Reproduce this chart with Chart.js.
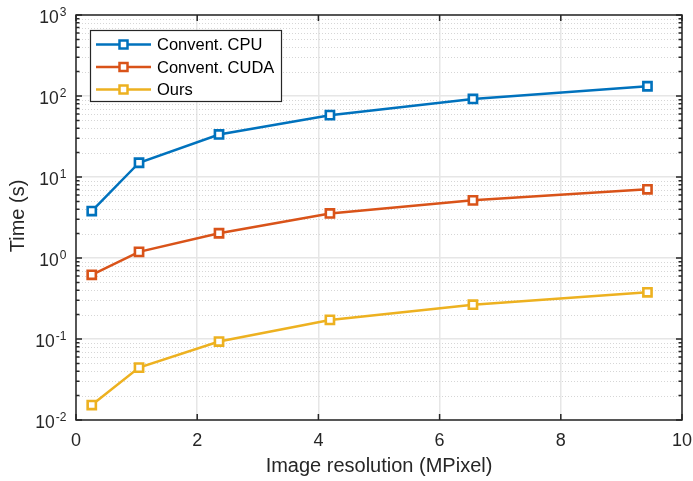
<!DOCTYPE html>
<html lang="en">
  <head>
    <meta charset="UTF-8" />
    <title>Time vs image resolution</title>
    <script src="https://cdn.jsdelivr.net/npm/chart.js"></script>
    <style>
      html, body { margin: 0; padding: 0; background: #fff; }
      canvas { display: block; }
    </style>
  </head>
  <body>
    <canvas id="chart" width="693" height="481"></canvas>
    <script>
      // data (x in MPixel, y in seconds)
      const resolution = [0.26, 1.04, 2.36, 4.19, 6.55, 9.43];
      const cpuTime = [3.8, 15, 33.5, 58, 92, 132];
      const cudaTime = [0.62, 1.19, 2.02, 3.55, 5.15, 7.05];
      const oursTime = [0.0153, 0.0443, 0.093, 0.172, 0.265, 0.377];
      const seriesNames = ['Convent. CPU', 'Convent. CUDA', 'Ours'];
      const seriesColors = ['#0072BD', '#D95319', '#EDB120'];
      const xTicks = [0, 2, 4, 6, 8, 10];
      const yExponents = [-2, -1, 0, 1, 2, 3];

      const FONT = '"Liberation Sans", Arial, Helvetica, sans-serif';
      const INK = '#262626';
      Chart.defaults.font.family = FONT;

      const toPoints = ys => resolution.map((x, i) => ({ x: x, y: ys[i] }));
      const allSeries = [cpuTime, cudaTime, oursTime];

      // minor grid, inward ticks, frame, tick labels, titles and legend (MATLAB look)
      const matlabAxes = {
        id: 'matlabAxes',
        beforeDatasetsDraw(chart) {
          const { ctx, chartArea: a, scales: { y } } = chart;
          ctx.save();
          ctx.strokeStyle = '#d6d6d6';
          ctx.lineWidth = 1;
          ctx.setLineDash([1, 2]);
          yExponents.slice(0, -1).forEach(e => {
            for (let m = 2; m <= 9; m++) {
              const py = Math.round(y.getPixelForValue(m * Math.pow(10, e))) + 0.5;
              ctx.beginPath();
              ctx.moveTo(a.left, py);
              ctx.lineTo(a.right, py);
              ctx.stroke();
            }
          });
          ctx.restore();
        },
        afterDraw(chart) {
          const { ctx, chartArea: a, scales: { x, y } } = chart;
          ctx.save();
          ctx.strokeStyle = INK;
          ctx.lineWidth = 1.5;
          ctx.strokeRect(a.left, a.top, a.right - a.left, a.bottom - a.top);

          // x ticks
          ctx.beginPath();
          xTicks.forEach(v => {
            const px = x.getPixelForValue(v);
            ctx.moveTo(px, a.bottom); ctx.lineTo(px, a.bottom - 6);
            ctx.moveTo(px, a.top); ctx.lineTo(px, a.top + 6);
          });
          // y ticks, major and minor
          yExponents.forEach((e, i) => {
            const py = y.getPixelForValue(Math.pow(10, e));
            ctx.moveTo(a.left, py); ctx.lineTo(a.left + 6, py);
            ctx.moveTo(a.right, py); ctx.lineTo(a.right - 6, py);
            if (i < yExponents.length - 1) {
              for (let m = 2; m <= 9; m++) {
                const pm = y.getPixelForValue(m * Math.pow(10, e));
                ctx.moveTo(a.left, pm); ctx.lineTo(a.left + 3.5, pm);
                ctx.moveTo(a.right, pm); ctx.lineTo(a.right - 3.5, pm);
              }
            }
          });
          ctx.stroke();

          // tick labels
          ctx.fillStyle = INK;
          ctx.font = '18px ' + FONT;
          ctx.textAlign = 'center';
          ctx.textBaseline = 'middle';
          xTicks.forEach(v => ctx.fillText(String(v), x.getPixelForValue(v), 441));

          yExponents.forEach(e => {
            const py = y.getPixelForValue(Math.pow(10, e));
            const exp = String(e);
            ctx.font = '12px ' + FONT;
            const ew = ctx.measureText(exp).width;
            ctx.textAlign = 'left';
            ctx.fillText(exp, 66.5 - ew, py - 2.5);
            ctx.font = '17.5px ' + FONT;
            ctx.textAlign = 'right';
            ctx.fillText('10', 65.5 - ew, py + 3.5);
          });

          // axis titles
          ctx.font = '20px ' + FONT;
          ctx.textAlign = 'center';
          ctx.fillText('Image resolution (MPixel)', (a.left + a.right) / 2, 466);
          ctx.save();
          ctx.translate(18, 216);
          ctx.rotate(-Math.PI / 2);
          ctx.fillText('Time (s)', 0, 0);
          ctx.restore();

          // legend
          ctx.fillStyle = '#fff';
          ctx.fillRect(90, 30, 191, 72);
          ctx.strokeStyle = INK;
          ctx.lineWidth = 1.2;
          ctx.strokeRect(90.5, 30.5, 191, 71);
          const rows = [44.5, 67, 89.5];
          seriesNames.forEach((name, i) => {
            const ry = rows[i];
            ctx.strokeStyle = seriesColors[i];
            ctx.lineWidth = 2.5;
            ctx.beginPath();
            ctx.moveTo(96, ry); ctx.lineTo(151, ry);
            ctx.stroke();
            ctx.fillStyle = '#fff';
            ctx.fillRect(119.5, ry - 4, 8, 8);
            ctx.strokeRect(119.5, ry - 4, 8, 8);
            ctx.fillStyle = '#000';
            ctx.font = '16.5px ' + FONT;
            ctx.textAlign = 'left';
            ctx.fillText(name, 157, ry + 1);
          });
          ctx.restore();
        }
      };

      new Chart(document.getElementById('chart'), {
        type: 'line',
        data: {
          datasets: allSeries.map((ys, i) => ({
            label: seriesNames[i],
            data: toPoints(ys),
            borderColor: seriesColors[i],
            backgroundColor: '#fff',
            pointBackgroundColor: '#fff',
            pointBorderColor: seriesColors[i],
            pointStyle: 'rect',
            pointRadius: 5.8,
            pointBorderWidth: 2.6,
            borderWidth: 2.5,
            tension: 0,
            fill: false,
            clip: false
          }))
        },
        options: {
          responsive: false,
          animation: false,
          layout: { padding: { top: 15, right: 11, left: 0, bottom: 0 } },
          plugins: { legend: { display: false }, tooltip: { enabled: false } },
          scales: {
            x: {
              type: 'linear',
              min: 0,
              max: 10,
              ticks: { display: false, stepSize: 2 },
              grid: { color: '#e6e6e6', lineWidth: 1.5, drawTicks: false },
              border: { display: false },
              afterFit: s => { s.height = 61; }
            },
            y: {
              type: 'logarithmic',
              min: 0.01,
              max: 1000,
              ticks: { display: false },
              afterBuildTicks: s => { s.ticks = yExponents.map(e => ({ value: Math.pow(10, e) })); },
              grid: { color: '#e6e6e6', lineWidth: 1.5, drawTicks: false },
              border: { display: false },
              afterFit: s => { s.width = 76; }
            }
          }
        },
        plugins: [matlabAxes]
      });
    </script>
  </body>
</html>
